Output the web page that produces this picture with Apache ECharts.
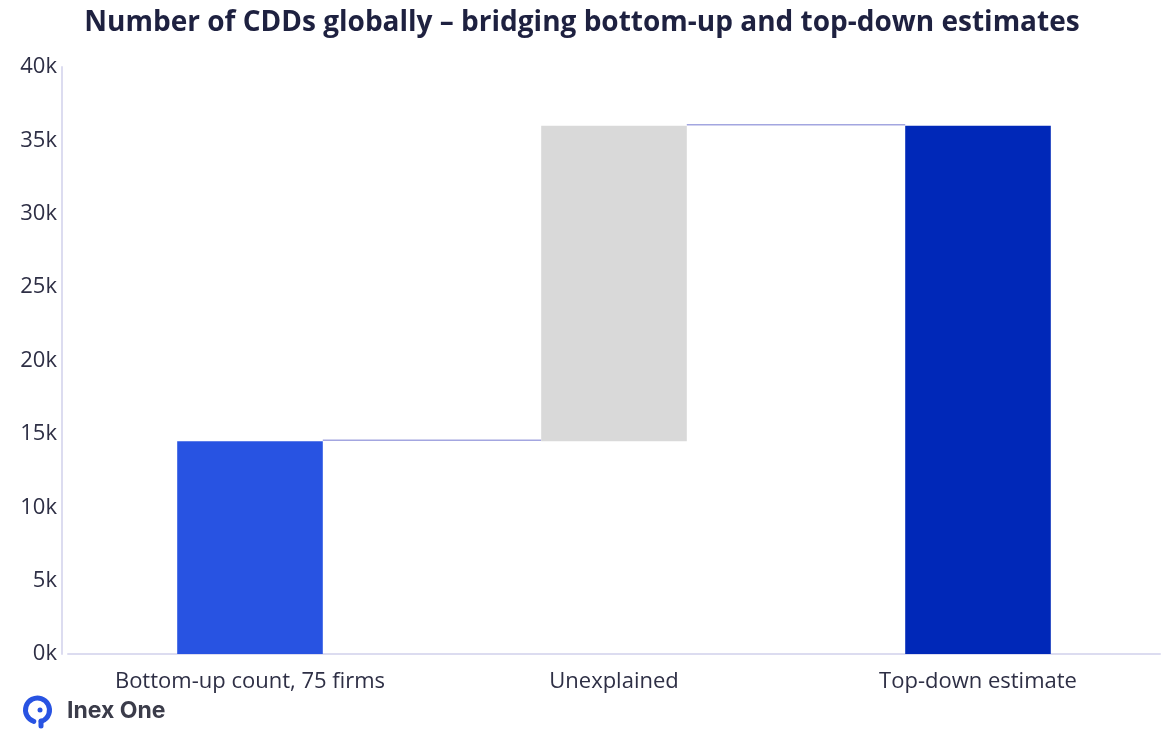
<!DOCTYPE html>
<html>
<head>
<meta charset="utf-8">
<title>Number of CDDs globally</title>
<script src="https://cdn.jsdelivr.net/npm/echarts@6/dist/echarts.min.js"></script>
<style>
  html, body { margin: 0; padding: 0; background: #fff; }
  #chart { width: 1164px; height: 733px; }
</style>
</head>
<body>
<div id="chart"></div>
<script>
// categories and values
const categories = ['Bottom-up count, 75 firms', 'Unexplained', 'Top-down estimate'];
const baseValues = [0, 14500, 0];          // invisible part of each bar
const stepValues = [14500, 21500, 36000];  // visible part of each bar
const barColors = ['#2853e2', '#d9d9d9', '#0028b8'];
const yTicks = [0, 5000, 10000, 15000, 20000, 25000, 30000, 35000, 40000];

const chart = echarts.init(document.getElementById('chart'));

// level reached at the top of each bar, used for the connector lines
const tops = stepValues.map((v, i) => baseValues[i] + v);
const connectors = tops.slice(0, -1).map((v, i) => [i, v]);

const option = {
    title: {
        text: 'Number of CDDs globally \u2013 bridging bottom-up and top-down estimates',
        left: 'center',
        top: 4,
        textStyle: {
            fontFamily: 'Open Sans',
            fontWeight: 'bold',
            fontSize: 28,
            color: '#1e2140'
        }
    },
    grid: { left: 68, right: 4, top: 67, bottom: 79 },
    xAxis: {
        type: 'category',
        data: categories,
        axisLine: { lineStyle: { color: '#dcdcf0', width: 2 } },
        axisTick: { show: false },
        axisLabel: {
            margin: 17,
            fontFamily: 'Open Sans',
            fontSize: 22,
            color: '#2e2f45'
        }
    },
    yAxis: {
        type: 'value',
        min: yTicks[0],
        max: yTicks[yTicks.length - 1],
        interval: 5000,
        offset: 6,
        axisLine: { show: true, lineStyle: { color: '#dcdcf0', width: 2 } },
        splitLine: { show: false },
        axisLabel: {
            margin: 5,
            fontFamily: 'Open Sans',
            fontSize: 22,
            color: '#2e2f45',
            formatter: v => (v / 1000) + 'k'
        }
    },
    series: [
        {
            type: 'bar',
            stack: 'wf',
            data: baseValues,
            barWidth: '40%',
            itemStyle: { color: 'transparent' },
            silent: true
        },
        {
            type: 'bar',
            stack: 'wf',
            data: stepValues.map((v, i) => ({ value: v, itemStyle: { color: barColors[i] } })),
            barWidth: '40%'
        },
        {
            // thin lines linking the top of one bar to the next bar
            type: 'custom',
            data: connectors,
            z: 1,
            renderItem: (params, api) => {
                const i = api.value(0);
                const v = api.value(1);
                const halfBar = api.size([1, 0])[0] * 0.2;
                const p1 = api.coord([i, v]);
                const p2 = api.coord([i + 1, v]);
                return {
                    type: 'line',
                    shape: { x1: p1[0] + halfBar, y1: p1[1] - 1, x2: p2[0] - halfBar, y2: p2[1] - 1 },
                    style: { stroke: '#a3a6e0', lineWidth: 1.5 }
                };
            }
        }
    ],
    graphic: [
        {
            type: 'arc',
            shape: { cx: 37.5, cy: 710, r: 12, startAngle: Math.PI * 0.6, endAngle: Math.PI * 0.4 },
            style: { stroke: '#2853e2', lineWidth: 5, fill: null, lineCap: 'round' }
        },
        {
            type: 'line',
            shape: { x1: 41, y1: 721, x2: 41, y2: 726 },
            style: { stroke: '#2853e2', lineWidth: 5, lineCap: 'round' }
        },
        {
            type: 'circle',
            shape: { cx: 40, cy: 710, r: 2.5 },
            style: { fill: '#2853e2' }
        },
        {
            type: 'text',
            x: 67,
            y: 711,
            style: {
                text: 'Inex One',
                fontFamily: 'Inter',
                fontWeight: 'bold',
                fontSize: 23,
                fill: '#3b3c4a',
                verticalAlign: 'middle'
            }
        }
    ]
};

chart.setOption(option);
</script>
</body>
</html>
